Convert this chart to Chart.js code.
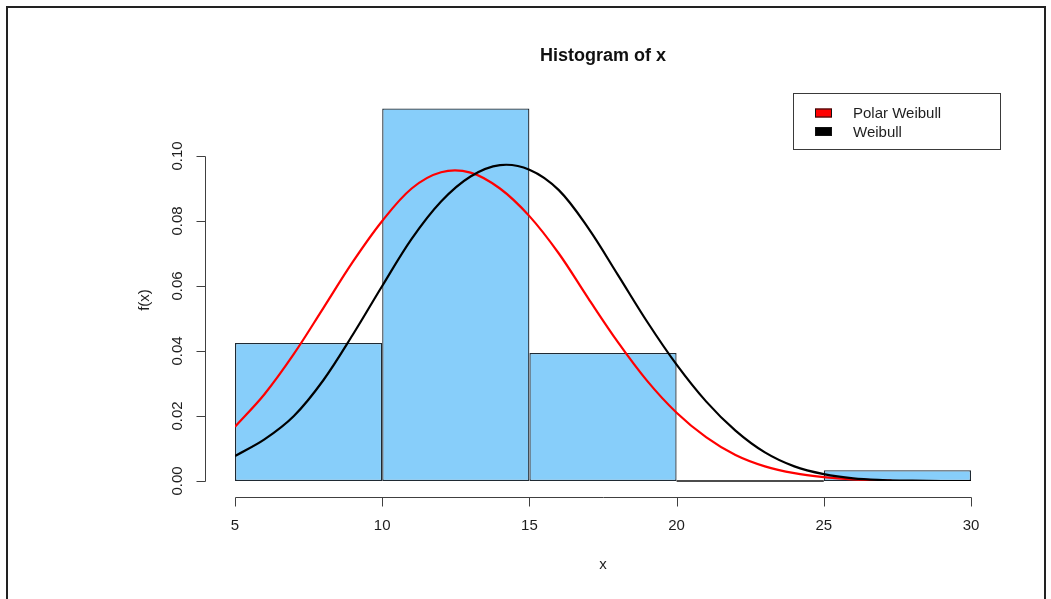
<!DOCTYPE html>
<html>
<head>
<meta charset="utf-8">
<script src="https://cdn.jsdelivr.net/npm/chart.js@4.4.1/dist/chart.umd.min.js"></script>
<style>
  html, body { margin: 0; padding: 0; background: #ffffff; overflow: hidden; }
  canvas { display: block; }
</style>
</head>
<body>
<canvas id="hist" width="1051" height="599"></canvas>
<script>
// Histogram bins (edges 5..30, width 5) and their densities
const binLeft    = [5, 10, 15, 20, 25];
const binRight   = [10, 15, 20, 25, 30];
const binMid     = [7.5, 12.5, 17.5, 22.5, 27.5];
const binDensity = [0.0425, 0.1146, 0.0394, 0, 0.0033];

// Fitted density curves, sampled along x
const polarX = [5, 6, 7, 8, 9, 10, 11, 12, 13, 14, 15, 16, 17, 18, 19, 20, 21, 22, 23, 24, 25, 26, 27, 27.3];
const polarY = [0.0167, 0.0267, 0.0391, 0.0532, 0.0674, 0.0800, 0.0900, 0.0950, 0.0949, 0.0900, 0.0815, 0.0700, 0.0562, 0.0428, 0.0308, 0.0210, 0.0135, 0.0080, 0.0045, 0.0024, 0.0012, 0.0005, 0.0002, 0.0001];

const weibX = [5, 6, 7, 8, 9, 10, 11, 12, 13, 14, 15, 16, 17, 18, 19, 20, 21, 22, 23, 24, 25, 26, 27, 28, 29, 30];
const weibY = [0.0077, 0.0128, 0.0200, 0.0310, 0.0450, 0.0600, 0.0745, 0.0860, 0.0937, 0.0972, 0.0958, 0.0895, 0.0778, 0.0635, 0.0490, 0.0358, 0.0245, 0.0155, 0.0088, 0.0045, 0.0021, 0.0008, 0.0003, 0.0001, 0, 0];

// Axis tick labels
const xTicks = [5, 10, 15, 20, 25, 30];
const yTicks = [0, 0.02, 0.04, 0.06, 0.08, 0.10];
const yTickLabels = ['0.00', '0.02', '0.04', '0.06', '0.08', '0.10'];

const chartTitle = 'Histogram of x';
const xTitle = 'x';
const yTitle = 'f(x)';
const seriesNames = ['Polar Weibull', 'Weibull'];
const seriesColors = ['#ff0000', '#000000'];

const FONT = '"Liberation Sans", Arial, Helvetica, sans-serif';
const INK = '#1e1e1e';

const toPoints = (xs, ys) => xs.map((x, i) => ({ x: x, y: ys[i] }));

// R-style detached axes, title, legend and page frame
const baseGraphics = {
  id: 'baseGraphics',
  afterDraw(chart) {
    const ctx = chart.ctx;
    const xs = chart.scales.x, ys = chart.scales.y;
    ctx.save();

    // outer frame
    ctx.strokeStyle = '#222222';
    ctx.lineWidth = 2;
    ctx.strokeRect(7, 7, 1038, 640);

    ctx.strokeStyle = '#404040';
    ctx.lineWidth = 1;
    ctx.fillStyle = INK;

    // x axis
    const axY = Math.round(ys.getPixelForValue(0)) + 16.5;
    const x0 = Math.round(xs.getPixelForValue(xTicks[0])) + 0.5;
    const x1 = Math.round(xs.getPixelForValue(xTicks[xTicks.length - 1])) + 0.5;
    ctx.beginPath();
    ctx.moveTo(x0, axY); ctx.lineTo(x1, axY);
    xTicks.forEach(v => {
      const px = Math.round(xs.getPixelForValue(v)) + 0.5;
      ctx.moveTo(px, axY); ctx.lineTo(px, axY + 9);
    });
    ctx.stroke();
    ctx.font = '15px ' + FONT;
    ctx.textAlign = 'center';
    ctx.textBaseline = 'middle';
    xTicks.forEach(v => {
      ctx.fillText(String(v), xs.getPixelForValue(v), axY + 28);
    });
    ctx.fillText(xTitle, (xs.left + xs.right) / 2, 565);

    // y axis
    const axX = Math.round(xs.getPixelForValue(xTicks[0])) - 29.5;
    const yTop = Math.round(ys.getPixelForValue(yTicks[yTicks.length - 1])) + 0.5;
    const yBot = Math.round(ys.getPixelForValue(yTicks[0])) + 0.5;
    ctx.beginPath();
    ctx.moveTo(axX, yTop); ctx.lineTo(axX, yBot);
    yTicks.forEach(v => {
      const py = Math.round(ys.getPixelForValue(v)) + 0.5;
      ctx.moveTo(axX, py); ctx.lineTo(axX - 9, py);
    });
    ctx.stroke();
    yTicks.forEach((v, i) => {
      ctx.save();
      ctx.translate(axX - 28, ys.getPixelForValue(v));
      ctx.rotate(-Math.PI / 2);
      ctx.fillText(yTickLabels[i], 0, 0);
      ctx.restore();
    });
    ctx.save();
    ctx.translate(145, 300);
    ctx.rotate(-Math.PI / 2);
    ctx.fillText(yTitle, 0, 0);
    ctx.restore();

    // title
    ctx.fillStyle = '#111111';
    ctx.font = 'bold 18px ' + FONT;
    ctx.fillText(chartTitle, (xs.left + xs.right) / 2, 56);

    // legend
    ctx.strokeStyle = '#3a3a3a';
    ctx.strokeRect(793.5, 93.5, 207, 56);
    ctx.font = '15px ' + FONT;
    ctx.textAlign = 'left';
    seriesNames.forEach((name, i) => {
      const cy = 113.5 + i * 18.5;
      ctx.fillStyle = seriesColors[i];
      ctx.fillRect(815, cy - 5, 17, 9);
      ctx.strokeStyle = '#111111';
      ctx.strokeRect(815.5, cy - 4.5, 16, 8);
      ctx.fillStyle = INK;
      ctx.fillText(name, 853, cy + 0.5);
    });

    ctx.restore();
  }
};

new Chart(document.getElementById('hist'), {
  type: 'bar',
  data: {
    datasets: [
      {
        type: 'line',
        label: seriesNames[1],
        data: toPoints(weibX, weibY),
        borderColor: seriesColors[1],
        borderWidth: 2.2,
        pointRadius: 0,
        tension: 0.35,
        fill: false,
        order: 0
      },
      {
        type: 'line',
        label: seriesNames[0],
        data: toPoints(polarX, polarY),
        borderColor: seriesColors[0],
        borderWidth: 2.2,
        pointRadius: 0,
        tension: 0.35,
        fill: false,
        order: 1
      },
      {
        // outline of the empty bin lying on the baseline
        type: 'line',
        label: 'empty bin',
        data: [{ x: binLeft[3], y: binDensity[3] }, { x: binRight[3], y: binDensity[3] }],
        borderColor: '#111111',
        borderWidth: 1.5,
        pointRadius: 0,
        fill: false,
        clip: 2,
        order: 2
      },
      {
        type: 'bar',
        label: 'x',
        data: toPoints(binMid, binDensity),
        backgroundColor: '#87cefa',
        borderColor: '#1f2a33',
        borderWidth: 1.3,
        borderSkipped: false,
        barPercentage: 1,
        categoryPercentage: 1,
        inflateAmount: 0,
        order: 3
      }
    ]
  },
  options: {
    responsive: false,
    animation: false,
    devicePixelRatio: 1,
    layout: { padding: { left: 235, right: 80, top: 91, bottom: 118 } },
    scales: {
      x: { type: 'linear', min: 5, max: 30, offset: false, display: false },
      y: { type: 'linear', min: 0, max: 0.12, display: false }
    },
    plugins: {
      legend: { display: false },
      title: { display: false },
      tooltip: { enabled: false }
    }
  },
  plugins: [baseGraphics]
});
</script>
</body>
</html>
